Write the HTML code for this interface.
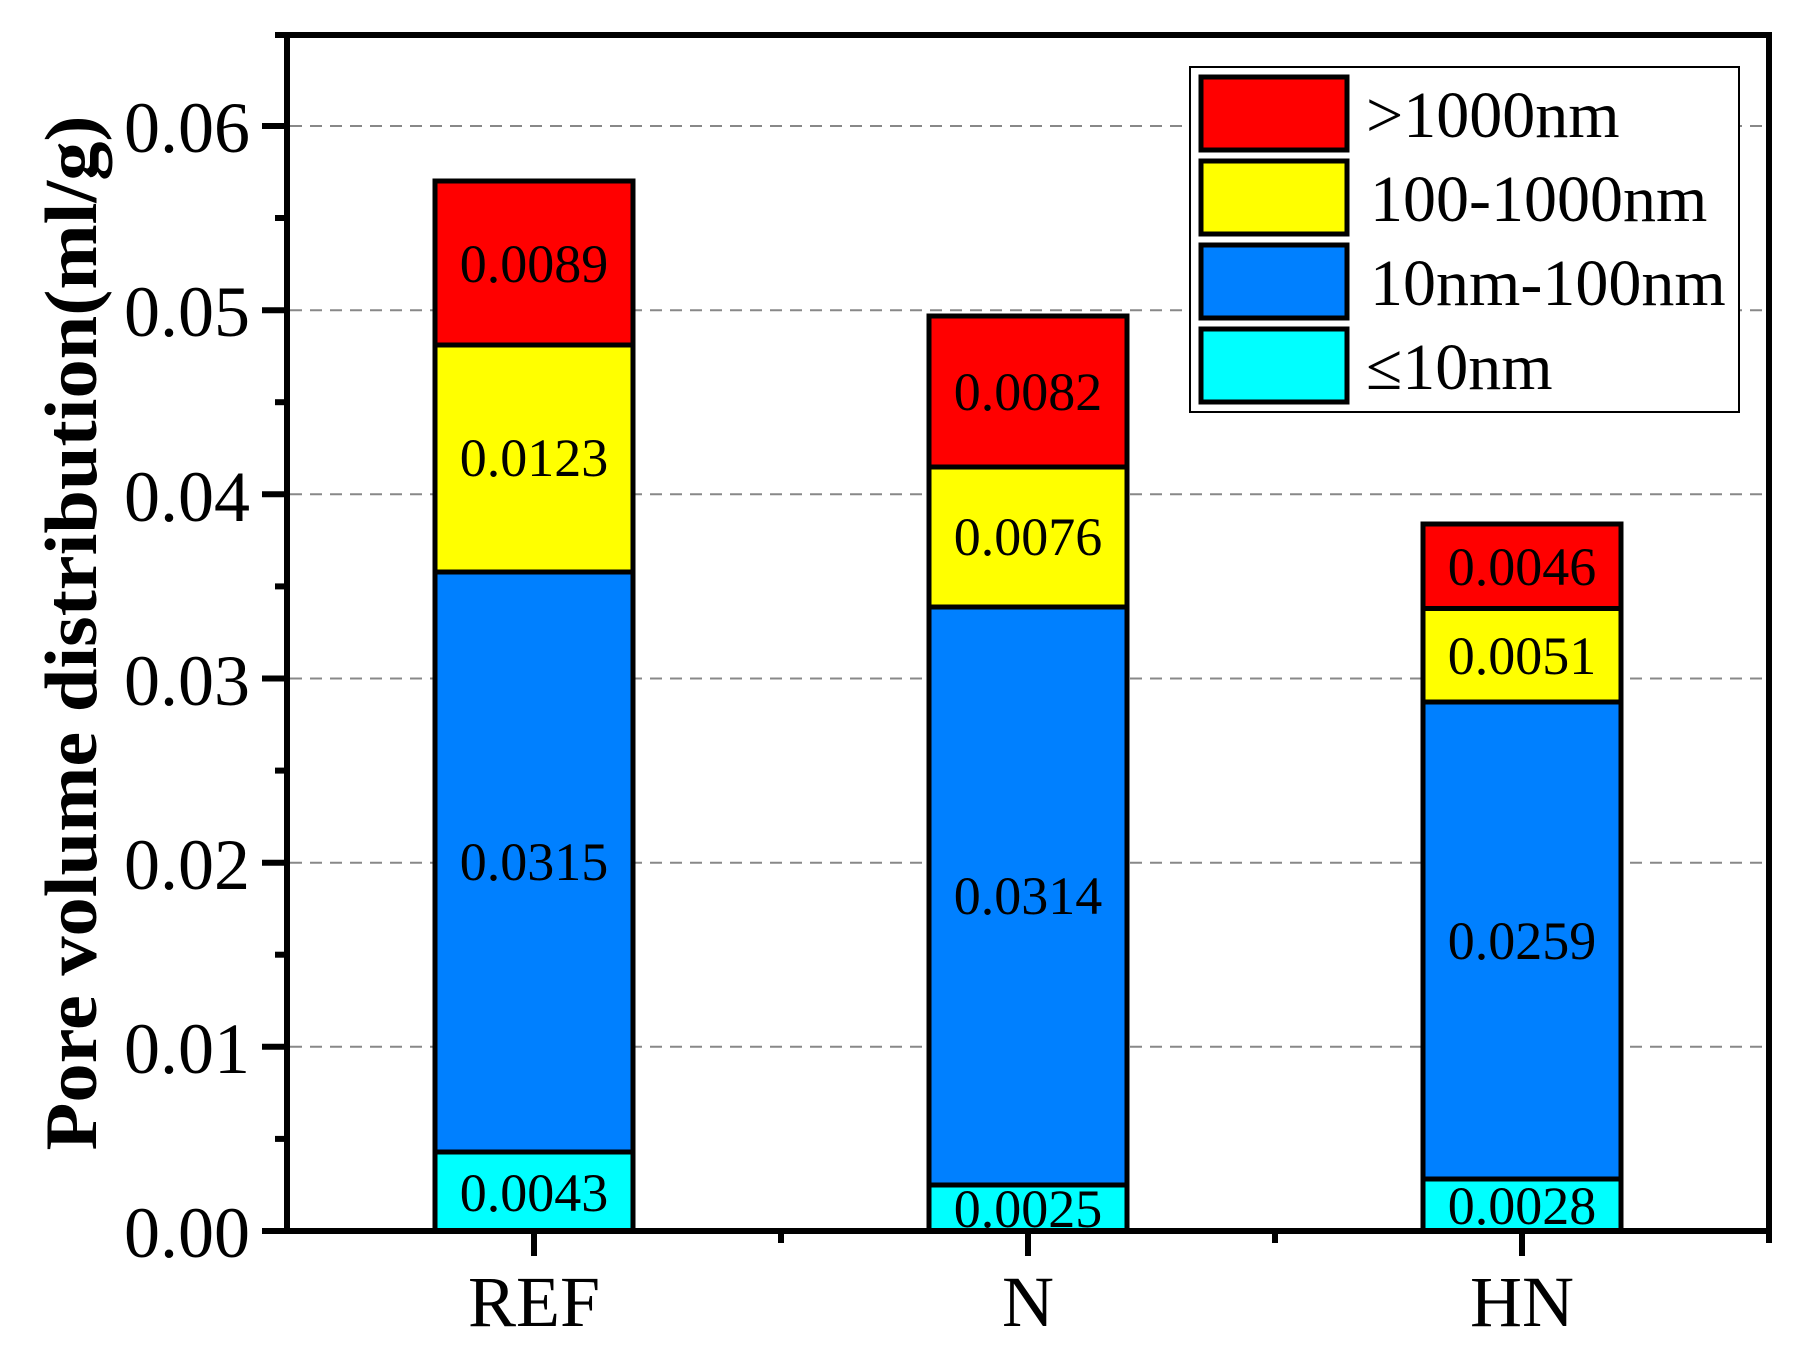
<!DOCTYPE html>
<html><head><meta charset="utf-8"><style>
html,body{margin:0;padding:0;background:#fff;}
svg{display:block;}
text{font-family:"Liberation Serif",serif;fill:#000;}
</style></head><body>
<svg width="1805" height="1352" viewBox="0 0 1805 1352" xmlns="http://www.w3.org/2000/svg">
<g stroke="#888" stroke-width="2" stroke-dasharray="12,8">
<line x1="290" y1="1046.8" x2="1766" y2="1046.8"/>
<line x1="290" y1="862.7" x2="1766" y2="862.7"/>
<line x1="290" y1="678.5" x2="1766" y2="678.5"/>
<line x1="290" y1="494.3" x2="1766" y2="494.3"/>
<line x1="290" y1="310.2" x2="1766" y2="310.2"/>
<line x1="290" y1="126" x2="1766" y2="126"/>
</g>
<g stroke="#000" stroke-width="5">
<rect x="435" y="1152" width="198" height="79" fill="#00ffff"/>
<rect x="435" y="572" width="198" height="580" fill="#0080ff"/>
<rect x="435" y="345" width="198" height="227" fill="#ffff00"/>
<rect x="435" y="181" width="198" height="164" fill="#ff0000"/>
<rect x="929" y="1185" width="198" height="46" fill="#00ffff"/>
<rect x="929" y="607" width="198" height="578" fill="#0080ff"/>
<rect x="929" y="467" width="198" height="140" fill="#ffff00"/>
<rect x="929" y="316" width="198" height="151" fill="#ff0000"/>
<rect x="1423" y="1179" width="198" height="52" fill="#00ffff"/>
<rect x="1423" y="702" width="198" height="477" fill="#0080ff"/>
<rect x="1423" y="608.5" width="198" height="93.5" fill="#ffff00"/>
<rect x="1423" y="524" width="198" height="84.5" fill="#ff0000"/>
</g>
<g font-size="54" text-anchor="middle" dominant-baseline="central">
<text x="534" y="1193">0.0043</text>
<text x="534" y="862">0.0315</text>
<text x="534" y="458">0.0123</text>
<text x="534" y="264">0.0089</text>
<text x="1028" y="1209">0.0025</text>
<text x="1028" y="896">0.0314</text>
<text x="1028" y="537">0.0076</text>
<text x="1028" y="392">0.0082</text>
<text x="1522" y="1206">0.0028</text>
<text x="1522" y="941">0.0259</text>
<text x="1522" y="656">0.0051</text>
<text x="1522" y="567">0.0046</text>
</g>
<g stroke="#000" stroke-width="6" fill="none">
<rect x="287" y="35" width="1482" height="1196"/>
<line x1="287" y1="1231" x2="262" y2="1231"/>
<line x1="287" y1="1046.8" x2="262" y2="1046.8"/>
<line x1="287" y1="862.7" x2="262" y2="862.7"/>
<line x1="287" y1="678.5" x2="262" y2="678.5"/>
<line x1="287" y1="494.3" x2="262" y2="494.3"/>
<line x1="287" y1="310.2" x2="262" y2="310.2"/>
<line x1="287" y1="126" x2="262" y2="126"/>
<line x1="287" y1="1138.9" x2="275" y2="1138.9"/>
<line x1="287" y1="954.7" x2="275" y2="954.7"/>
<line x1="287" y1="770.6" x2="275" y2="770.6"/>
<line x1="287" y1="586.4" x2="275" y2="586.4"/>
<line x1="287" y1="402.2" x2="275" y2="402.2"/>
<line x1="287" y1="218" x2="275" y2="218"/>
<line x1="287" y1="35" x2="275" y2="35"/>
<line x1="534" y1="1231" x2="534" y2="1256"/>
<line x1="1028" y1="1231" x2="1028" y2="1256"/>
<line x1="1522" y1="1231" x2="1522" y2="1256"/>
<line x1="781" y1="1231" x2="781" y2="1243"/>
<line x1="1275" y1="1231" x2="1275" y2="1243"/>
<line x1="1769" y1="1231" x2="1769" y2="1243"/>
</g>
<g font-size="72" text-anchor="end" dominant-baseline="central">
<text x="250" y="1233">0.00</text>
<text x="250" y="1049">0.01</text>
<text x="250" y="865">0.02</text>
<text x="250" y="681">0.03</text>
<text x="250" y="497">0.04</text>
<text x="250" y="312">0.05</text>
<text x="250" y="128">0.06</text>
</g>
<g font-size="72" text-anchor="middle">
<text x="534" y="1326">REF</text>
<text x="1028" y="1326">N</text>
<text x="1522" y="1326">HN</text>
</g>
<text transform="translate(96,633) rotate(-90)" font-size="74" font-weight="bold" text-anchor="middle" textLength="1035" lengthAdjust="spacingAndGlyphs">Pore volume distribution(ml/g)</text>
<rect x="1190" y="67" width="549" height="345" fill="#fff" stroke="#000" stroke-width="2"/>
<g stroke="#000" stroke-width="5">
<rect x="1201" y="77" width="146" height="73" fill="#ff0000"/>
<rect x="1201" y="161" width="146" height="73" fill="#ffff00"/>
<rect x="1201" y="245" width="146" height="73" fill="#0080ff"/>
<rect x="1201" y="329" width="146" height="73" fill="#00ffff"/>
</g>
<g font-size="66">
<text x="1366" y="137">&gt;1000nm</text>
<text x="1370" y="221">100-1000nm</text>
<text x="1370" y="305">10nm-100nm</text>
<text x="1366" y="389">≤10nm</text>
</g>
</svg>
</body></html>
